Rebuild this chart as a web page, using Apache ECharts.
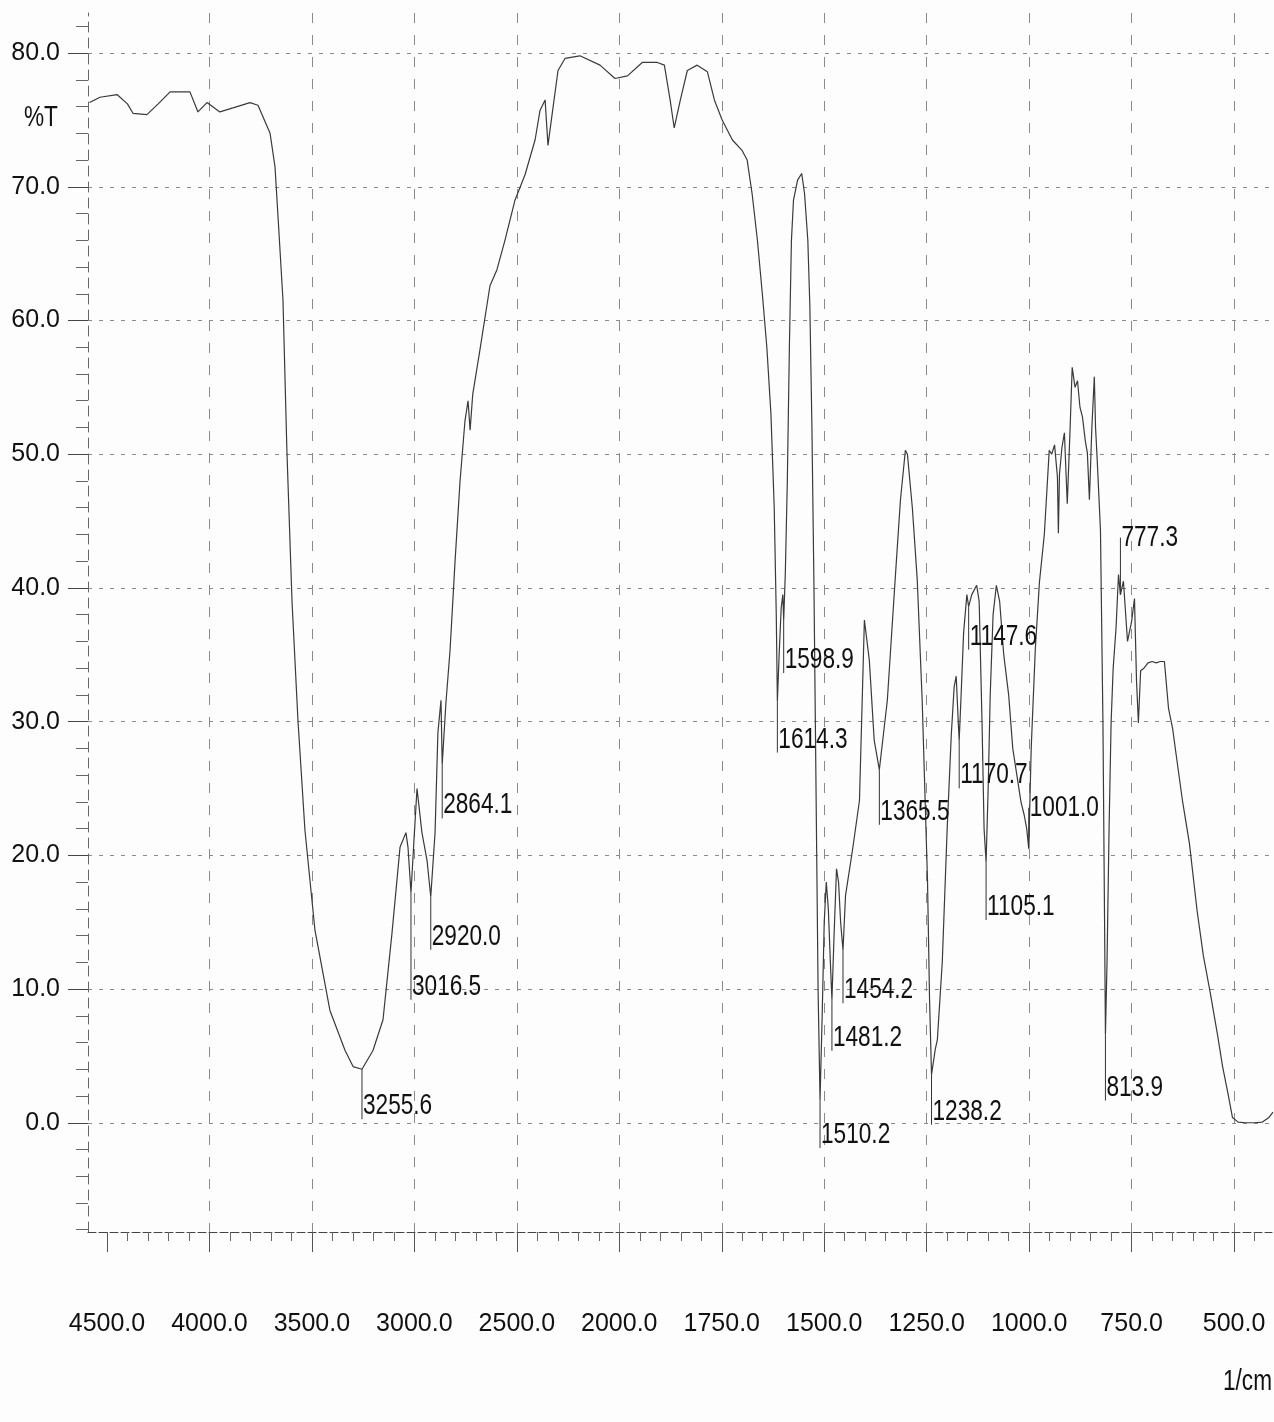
<!DOCTYPE html>
<html>
<head>
<meta charset="utf-8">
<title>IR spectrum</title>
<script src="https://cdn.jsdelivr.net/npm/echarts@6.0.0/dist/echarts.min.js"></script>
<style>
  html, body { margin: 0; padding: 0; background: #fdfdfd; }
  #chart { width: 1274px; height: 1422px; }
</style>
</head>
<body>
<div id="chart"></div>
<script>
// spectrum: wavenumber (1/cm) and %T
var wavenumber = [
  4585, 4534, 4451, 4400, 4373, 4305, 4250, 4192, 4095, 4056, 4012, 3949, 3885, 3802, 3763,
  3704, 3680, 3665, 3641, 3622, 3597, 3568, 3534, 3485, 3412, 3338, 3299, 3255.6, 3202, 3153,
  3109, 3070, 3041, 3031, 3016.5, 3002, 2987, 2963, 2938, 2920.0, 2899, 2885, 2870, 2864.1, 2846,
  2826, 2801, 2777, 2753, 2738, 2728, 2715, 2680, 2631, 2597, 2558, 2509, 2460, 2411, 2387,
  2362, 2348, 2328, 2299, 2265, 2192, 2094, 2021, 1980, 1944, 1907, 1890, 1876, 1866, 1851,
  1834, 1810, 1785, 1768, 1749, 1724, 1700, 1688, 1676, 1663, 1651, 1640, 1630, 1622, 1617,
  1614.3, 1610, 1605, 1601, 1598.9, 1595, 1590, 1585, 1580, 1575, 1565, 1555, 1548, 1540, 1535,
  1530, 1525, 1520, 1515, 1510.2, 1505, 1500, 1495, 1490, 1485, 1481.2, 1476, 1470, 1465, 1460,
  1454.2, 1448, 1431, 1414, 1402, 1390, 1378, 1365.5, 1346, 1327, 1314, 1302, 1297, 1285, 1273,
  1261, 1248, 1243, 1238.2, 1229, 1224, 1212, 1200, 1190, 1183, 1178, 1173, 1170.7, 1166, 1160,
  1152, 1147.6, 1140, 1128, 1122, 1115, 1110, 1105.1, 1100, 1095, 1088, 1080, 1072, 1062, 1050,
  1040, 1030, 1020, 1012, 1006, 1001.0, 995, 985, 975, 963, 951, 945, 938, 931, 928.7,
  926, 920, 914, 907, 900, 895, 888, 882, 876, 870, 863, 858, 853, 847, 841,
  838, 834, 826, 820, 816, 813.9, 810, 805, 800, 795, 788, 782, 777.3, 770, 760,
  750, 743, 738, 733.5, 728, 720, 710, 700, 690, 680, 670, 660, 650, 643, 626,
  609, 590, 575, 558, 540, 528, 515, 504, 490, 472, 450, 431, 415, 405
];
var transmittance = [
  76.3, 76.7, 76.9, 76.2, 75.5, 75.4, 76.2, 77.1, 77.1, 75.6, 76.3, 75.6, 75.9, 76.3, 76.1,
  74.0, 71.5, 67.7, 61.5, 50.3, 39.0, 30.1, 21.9, 14.4, 8.4, 5.4, 4.2, 4.0, 5.4, 7.7,
  14.2, 20.6, 21.7, 20.6, 17.2, 21.1, 25.0, 21.7, 19.6, 16.9, 21.7, 29.2, 31.6, 26.8, 31.4,
  35.3, 42.1, 48.0, 52.5, 54.0, 51.8, 54.5, 57.8, 62.6, 63.8, 66.0, 69.0, 70.9, 73.5, 75.7,
  76.5, 73.1, 75.4, 78.7, 79.6, 79.8, 79.1, 78.1, 78.3, 79.3, 79.3, 79.1, 76.5, 74.4, 76.5,
  78.7, 79.1, 78.6, 76.5, 75.0, 73.5, 72.7, 72.0, 69.5, 66.0, 62.0, 58.0, 53.0, 46.0, 38.0,
  31.5, 35.0, 38.5, 39.5, 37.6, 41.0, 48.0, 58.0, 66.0, 69.0, 70.5, 71.0, 69.5, 66.0, 61.0,
  52.0, 40.0, 25.0, 10.0, 1.7, 8.0, 15.0, 18.0, 16.0, 12.0, 9.2, 14.0, 19.0, 18.0, 15.0,
  12.9, 17.0, 20.4, 24.1, 37.6, 34.6, 28.6, 26.4, 31.6, 40.6, 46.6, 50.3, 50.0, 46.0, 40.6,
  31.6, 18.1, 9.2, 3.6, 5.5, 6.2, 12.0, 22.0, 29.0, 32.6, 33.4, 30.0, 28.6, 32.0, 36.6,
  39.5, 38.6, 39.5, 40.2, 39.0, 30.0, 22.0, 19.5, 25.0, 32.0, 38.0, 40.2, 39.0, 35.0, 32.0,
  28.0, 26.0, 24.0, 23.0, 22.0, 20.5, 28.0, 35.4, 40.4, 44.0, 50.3, 50.0, 50.7, 48.3, 44.1,
  48.5, 50.5, 51.6, 46.3, 52.0, 56.5, 55.0, 55.5, 53.5, 52.8, 51.0, 50.1, 46.6, 52.0, 55.8,
  52.0, 49.6, 44.3, 30.0, 15.0, 6.6, 12.0, 22.0, 30.0, 34.0, 37.0, 41.0, 39.5, 40.5, 36.0,
  37.5, 39.2, 33.0, 29.9, 33.8, 34.0, 34.4, 34.5, 34.4, 34.5, 34.5, 31.0, 29.5, 27.9, 24.1,
  20.9, 15.8, 12.5, 9.7, 6.5, 4.2, 2.2, 0.4, 0.05, 0.0, 0.0, 0.05, 0.4, 0.8
];

// labelled peaks
var peakWn = [3255.6, 3016.5, 2920.0, 2864.1, 1614.3, 1598.9, 1510.2, 1481.2, 1454.2,
              1365.5, 1238.2, 1170.7, 1147.6, 1105.1, 1001.0, 813.9, 777.3];
var peakT = [4.0, 17.2, 16.9, 26.8, 31.5, 37.6, 1.7, 9.2, 12.9,
             26.4, 3.6, 28.6, 38.6, 19.5, 20.5, 6.6, 39.5];
// where the label sits, px below the peak (negative = above)
var peakDrop = [37, 94, 40, 41, 38, 40, 35, 38, 40,
                42, 37, 35, 30, 45, -41, 53, -57];

var xTickLabels = [4500, 4000, 3500, 3000, 2500, 2000, 1750, 1500, 1250, 1000, 750, 500];
var yTickLabels = [0, 10, 20, 30, 40, 50, 60, 70, 80];

// the x scale is 500 per division above 2000 and 250 per division below
function toU(w) { return w >= 2000 ? (4500 - w) / 500 : 5 + (2000 - w) / 250; }
function fromU(u) { return u <= 5 ? 4500 - u * 500 : 2000 - (u - 5) * 250; }

var spectrum = wavenumber.map(function (w, i) { return [toU(w), transmittance[i]]; });
var peaks = peakWn.map(function (w, i) { return [toU(w), peakT[i], i]; });

var xMajor = xTickLabels.map(toU);
var xMinor = [];
for (var w = 4600; w > 2000; w -= 100) { if (w % 500) xMinor.push(toU(w)); }
for (var w2 = 2000; w2 >= 400; w2 -= 50) { if (w2 % 250) xMinor.push(toU(w2)); }
var yMinor = [];
for (var v = -8; v <= 82; v += 2) { if (v % 10) yMinor.push(v); }

var XMIN = -0.185, XMAX = 11.37, YMIN = -8.17, YMAX = 83.0;
var FONT = '"Liberation Sans", Arial, sans-serif';
var NARROW = 0.78;   // the printed lettering is a condensed face

var chart = echarts.init(document.getElementById('chart'));

var option = {
  backgroundColor: '#fdfdfd',
  animation: false,
  grid: { left: 88, right: 2, top: 13, bottom: 190, containLabel: false, outerBoundsMode: 'none' },
  xAxis: [{
    type: 'value', min: XMIN, max: XMAX, position: 'bottom', offset: 0,
    axisLine: { show: true, onZero: false, lineStyle: { color: '#444', width: 1, type: [8, 3] } },
    axisTick: { show: true, customValues: xMajor, length: 20, lineStyle: { color: '#555' } },
    axisLabel: {
      customValues: xMajor, margin: 80, color: '#111', fontSize: 25, fontFamily: FONT,
      formatter: function (u) { return fromU(u).toFixed(1); }
    },
    splitLine: { show: false }
  }, {
    // vertical grid lines
    type: 'value', min: XMIN, max: XMAX, position: 'bottom', offset: 0,
    axisLine: { show: false, onZero: false }, axisLabel: { show: false },
    axisTick: { show: false, customValues: xMajor.slice(1) },
    splitLine: { show: true, lineStyle: { color: '#8a8a8a', width: 1, type: [10, 12] } }
  }, {
    // small ticks
    type: 'value', min: XMIN, max: XMAX, position: 'bottom', offset: 0,
    axisLine: { show: false, onZero: false }, axisLabel: { show: false }, splitLine: { show: false },
    axisTick: { show: true, customValues: xMinor, length: 9, lineStyle: { color: '#666' } }
  }],
  yAxis: [{
    type: 'value', min: YMIN, max: YMAX, position: 'left', offset: 0,
    axisLine: { show: true, onZero: false, lineStyle: { color: '#666', width: 1, type: [10, 6] } },
    axisTick: { show: true, customValues: yTickLabels, length: 20, lineStyle: { color: '#444' } },
    axisLabel: {
      customValues: yTickLabels, margin: 28, color: '#111', fontSize: 25, fontFamily: FONT,
      formatter: function (v) { return v.toFixed(1); }
    },
    splitLine: { show: true, lineStyle: { color: '#8a8a8a', width: 1, type: [4, 7] } }
  }, {
    type: 'value', min: YMIN, max: YMAX, position: 'left', offset: 0,
    axisLine: { show: false, onZero: false }, axisLabel: { show: false }, splitLine: { show: false },
    axisTick: { show: true, customValues: yMinor, length: 12, lineStyle: { color: '#666' } }
  }],
  graphic: [
    { type: 'text', x: 24, y: 118, scaleX: NARROW,
      style: { text: '%T', fill: '#111', font: '29px ' + FONT, verticalAlign: 'middle' } },
    { type: 'text', x: 1272, y: 1382, scaleX: NARROW,
      style: { text: '1/cm', fill: '#111', font: '29px ' + FONT, align: 'right', verticalAlign: 'middle' } }
  ],
  series: [{
    type: 'line', data: spectrum, xAxisIndex: 0, yAxisIndex: 0,
    showSymbol: false, smooth: false, silent: true,
    lineStyle: { color: '#3a3a3a', width: 1.2 }
  }, {
    type: 'custom', data: peaks, xAxisIndex: 0, yAxisIndex: 0, silent: true, clip: false, z: 5,
    renderItem: function (params, api) {
      var i = api.value(2);
      var p = api.coord([api.value(0), api.value(1)]);
      var drop = peakDrop[i];
      var ly = p[1] + drop;
      var endY = drop > 0 ? ly + 13 : ly;
      return {
        type: 'group',
        children: [{
          type: 'line',
          shape: { x1: p[0], y1: p[1], x2: p[0], y2: endY },
          style: { stroke: '#333', lineWidth: 1 }
        }, {
          type: 'text', x: p[0] + 1, y: ly, scaleX: NARROW,
          style: {
            text: peakWn[i].toFixed(1), fill: '#111', font: '29px ' + FONT,
            align: 'left', verticalAlign: 'middle'
          }
        }]
      };
    }
  }]
};

chart.setOption(option);
</script>
</body>
</html>
